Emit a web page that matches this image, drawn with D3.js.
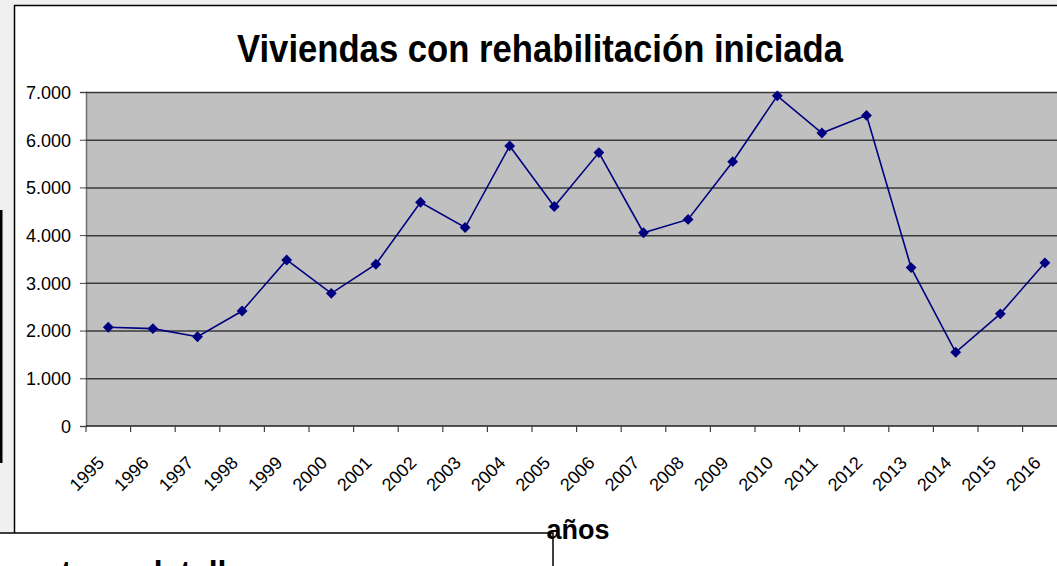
<!DOCTYPE html>
<html>
<head>
<meta charset="utf-8">
<script src="https://cdn.jsdelivr.net/npm/d3@7"></script>
<style>
    body { margin: 0; background: #f0f0f0; overflow: hidden; }
    svg { display: block; font-family: "Liberation Sans", Arial, sans-serif; }
</style>
</head>
<body>
<div id="chart"></div>
<script>
// data
const years = ["1995", "1996", "1997", "1998", "1999", "2000", "2001", "2002", "2003", "2004", "2005",
    "2006", "2007", "2008", "2009", "2010", "2011", "2012", "2013", "2014", "2015", "2016"];
const viviendas = [2070, 2040, 1870, 2410, 3480, 2780, 3390, 4690, 4160, 5870, 4600,
    5730, 4050, 4330, 5540, 6920, 6140, 6510, 3320, 1545, 2350, 3420];
const yTicks = [0, 1000, 2000, 3000, 4000, 5000, 6000, 7000];

function drawChart() {
    let width = 1057,
        height = 566,
        plotLeft = 86,
        plotRight = 86 + 44.6 * years.length,
        plotTop = 92,
        plotBottom = 426;

    let svg = d3.select("#chart")
        .append("svg")
        .attr("width", width)
        .attr("height", height);

    // chart box
    svg.append("rect")
        .attr("x", 14)
        .attr("y", 5)
        .attr("width", width)
        .attr("height", height)
        .style("fill", "white");
    svg.append("path")
        .attr("d", "M" + width + ",5.5H14.5V533")
        .style("fill", "none")
        .style("stroke", "black")
        .style("stroke-width", 1.5);

    // stray bar on the left edge
    svg.append("rect")
        .attr("x", 0)
        .attr("y", 210)
        .attr("width", 2.5)
        .attr("height", 253)
        .style("fill", "black");

    let x = d3.scaleBand()
        .domain(years)
        .range([plotLeft, plotRight]);

    let y = d3.scaleLinear()
        .domain([0, 7000])
        .range([plotBottom, plotTop]);

    // plot area
    svg.append("rect")
        .attr("x", plotLeft)
        .attr("y", plotTop)
        .attr("width", plotRight - plotLeft)
        .attr("height", plotBottom - plotTop)
        .style("fill", "#c0c0c0");

    // y axis with gridlines
    let y_axis = d3.axisLeft(y)
        .tickValues(yTicks)
        .tickSize(6)
        .tickFormat(function (d) {
            return d === 0 ? "0" : d3.format(",")(d).replace(",", ".");
        });

    svg.append("g")
        .attr("class", "yaxis")
        .attr("transform", "translate(" + plotLeft + ",0)")
        .call(y_axis);

    svg.selectAll(".yaxis .domain")
        .style("stroke", "#707070")
        .style("stroke-width", 1.5);

    svg.selectAll(".yaxis .tick line")
        .style("stroke", "#404040");

    svg.selectAll(".yaxis .tick")
        .filter(function (d) { return d > 0; })
        .append("line")
        .attr("x1", 0)
        .attr("x2", plotRight - plotLeft)
        .style("stroke", "#3a3a3a")
        .style("stroke-width", 1.5);

    svg.selectAll(".yaxis .tick text")
        .attr("x", -15)
        .attr("dy", "0.35em")
        .style("font-size", "18px")
        .style("fill", "black");

    // x axis, ticks between categories
    let boundaries = years.map(function (d) { return x(d); }).concat([plotRight]);

    svg.append("line")
        .attr("x1", plotLeft)
        .attr("x2", plotRight)
        .attr("y1", plotBottom)
        .attr("y2", plotBottom)
        .style("stroke", "#202020")
        .style("stroke-width", 1.5);

    svg.selectAll(".xtick")
        .data(boundaries)
        .enter()
        .append("line")
        .attr("class", "xtick")
        .attr("x1", function (d) { return d; })
        .attr("x2", function (d) { return d; })
        .attr("y1", plotBottom)
        .attr("y2", plotBottom + 6)
        .style("stroke", "#404040")
        .style("stroke-width", 1.2);

    svg.selectAll(".xlabel")
        .data(years)
        .enter()
        .append("text")
        .attr("class", "xlabel")
        .attr("transform", function (d) {
            return "translate(" + (x(d) + x.bandwidth() / 2 - 3) + "," + (plotBottom + 38) + ") rotate(-45)";
        })
        .style("text-anchor", "end")
        .style("font-size", "18px")
        .text(function (d) { return d; });

    // line and markers
    let line = d3.line()
        .x(function (d, i) { return x(years[i]) + x.bandwidth() / 2; })
        .y(function (d) { return y(d); });

    svg.append("path")
        .datum(viviendas)
        .attr("d", line)
        .style("fill", "none")
        .style("stroke", "#000080")
        .style("stroke-width", 1.6);

    svg.selectAll(".marker")
        .data(viviendas)
        .enter()
        .append("path")
        .attr("class", "marker")
        .attr("d", d3.symbol().type(d3.symbolDiamond2).size(75))
        .attr("transform", function (d, i) {
            return "translate(" + (x(years[i]) + x.bandwidth() / 2) + "," + y(d) + ")";
        })
        .style("fill", "#000080");

    // title
    svg.append("text")
        .attr("x", 540)
        .attr("y", 62)
        .attr("textLength", 606)
        .attr("lengthAdjust", "spacingAndGlyphs")
        .style("text-anchor", "middle")
        .style("font-size", "38px")
        .style("font-weight", 700)
        .text("Viviendas con rehabilitación iniciada");

    // box at the bottom left, mostly cut off below the window
    svg.append("rect")
        .attr("x", -2)
        .attr("y", 533)
        .attr("width", 555)
        .attr("height", 60)
        .style("fill", "white")
        .style("stroke", "black")
        .style("stroke-width", 1.5);

    svg.append("text")
        .attr("x", 22)
        .attr("y", 583)
        .style("font-size", "32px")
        .style("font-weight", 700)
        .text("uotas y detalle");

    // x axis title
    svg.append("text")
        .attr("x", 578)
        .attr("y", 539)
        .style("text-anchor", "middle")
        .style("font-size", "27px")
        .style("font-weight", 700)
        .text("años");
}

drawChart();
</script>
</body>
</html>
